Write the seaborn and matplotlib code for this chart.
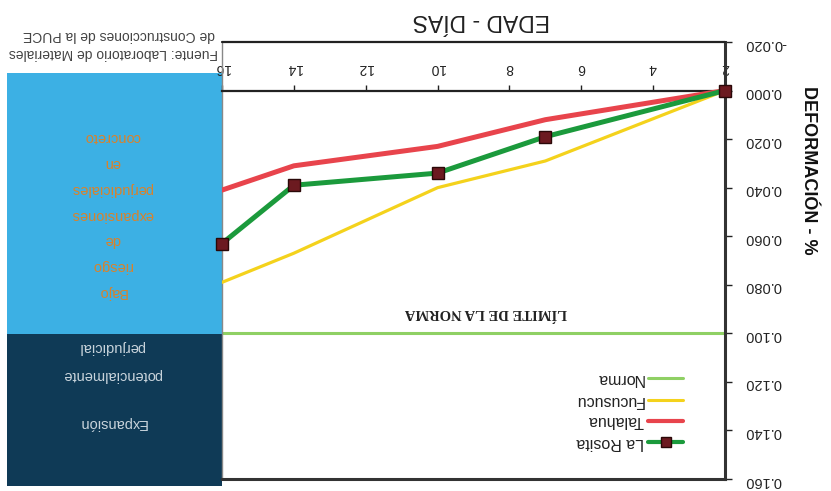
import matplotlib
matplotlib.use("Agg")
import matplotlib.pyplot as plt
import seaborn as sns
from matplotlib.patches import Rectangle
from matplotlib.lines import Line2D
from matplotlib.ticker import FuncFormatter

# Expansion readings (%) by age in days
dias = [2, 7, 10, 14, 16]
la_rosita = [0.000, 0.019, 0.034, 0.039, 0.063]
talahua = [0.000, 0.012, 0.023, 0.031, 0.041]
fucusucu = [0.000, 0.029, 0.040, 0.067, 0.079]
norma = 0.100

series_names = ["La Rosita", "Talahua", "Fucusucu", "Norma"]
x_ticks = [2, 4, 6, 8, 10, 12, 14, 16]
y_ticks = [-0.020, 0.000, 0.020, 0.040, 0.060, 0.080, 0.100, 0.120, 0.140, 0.160]

sns.set_style("white")
plt.rcParams["font.family"] = ["Liberation Sans", "DejaVu Sans"]
plt.rcParams["axes.unicode_minus"] = False

W, H = 831, 491
fig = plt.figure(figsize=(W / 100, H / 100), dpi=100)
fig.patch.set_facecolor("white")


def fx(x):
    return x / W


def fy(y):
    return 1 - y / H


# side panel describing the risk zones
fig.patches.append(Rectangle((fx(7), fy(334)), fx(222) - fx(7), fy(73) - fy(334),
                             transform=fig.transFigure, facecolor="#3cb0e4",
                             edgecolor="none", zorder=0))
fig.patches.append(Rectangle((fx(7), fy(486)), fx(222) - fx(7), fy(334) - fy(486),
                             transform=fig.transFigure, facecolor="#0f3a56",
                             edgecolor="none", zorder=0))

ax = fig.add_axes([fx(222), fy(479), fx(725) - fx(222), fy(42) - fy(479)])
ax.set_zorder(3)
ax.set_facecolor("white")

colors = {"La Rosita": "#1b9a3c", "Talahua": "#e8444c",
          "Fucusucu": "#f4d21c", "Norma": "#8fd064"}

ax.axhline(norma, color=colors["Norma"], lw=2.2, zorder=2)
sns.lineplot(x=dias, y=fucusucu, color=colors["Fucusucu"], linewidth=2.3, ax=ax,
             zorder=3)
sns.lineplot(x=dias, y=talahua, color=colors["Talahua"], linewidth=3.6, ax=ax,
             zorder=4)
sns.lineplot(x=dias, y=la_rosita, color=colors["La Rosita"], linewidth=3.6, ax=ax,
             marker="s", markersize=8, markerfacecolor="#6c1a20",
             markeredgecolor="#2a0808", markeredgewidth=1, zorder=5, clip_on=False)

ax.set_xlim(16, 2)
ax.set_ylim(0.16, -0.02)
ax.set_xlabel("")
ax.set_ylabel("")

# x axis runs along the zero line, labels between it and the frame
ax.xaxis.tick_top()
ax.spines["top"].set_position(("data", 0))
ax.set_xticks(x_ticks)
ax.tick_params(axis="x", direction="out", length=4, width=1, pad=7,
               labelsize=10, labelrotation=180, colors="#222222")
ax.axhline(-0.02, color="#222222", lw=1.6, clip_on=False, zorder=6)

ax.yaxis.tick_right()
ax.set_yticks(y_ticks)
ax.yaxis.set_major_formatter(FuncFormatter(lambda v, p: f"{v:.3f}"))
ax.tick_params(axis="y", direction="out", length=5, width=1, pad=9,
               labelsize=10.5, labelrotation=180, colors="#222222")

ax.spines["right"].set_linewidth(2.2)
ax.spines["right"].set_color("#333333")
ax.spines["bottom"].set_linewidth(2.2)
ax.spines["bottom"].set_color("#333333")
ax.spines["top"].set_linewidth(1.6)
ax.spines["top"].set_color("#222222")
ax.spines["left"].set_linewidth(1)
ax.spines["left"].set_color("#888888")

ax.text(8.65, 0.0915, "LÍMITE DE LA NORMA", rotation=180, ha="center", va="center",
        fontsize=10.5, weight="bold", family=["Liberation Serif", "DejaVu Serif"],
        color="#222222")

# titles
fig.text(fx(481), fy(21), "EDAD - DÍAS", rotation=180, ha="center", va="center",
         fontsize=16.5, color="#222222")
fig.text(fx(808), fy(170), "DEFORMACIÓN - %", rotation=270, ha="center",
         va="center", fontsize=13, weight="bold", color="#111111")

# legend, drawn above the axes background
legend_rows = [("Norma", 378), ("Fucusucu", 400), ("Talahua", 421), ("La Rosita", 442)]
for name, yy in legend_rows:
    lw = 3 if name in ("Talahua", "La Rosita") else 2.2
    fig.lines.append(Line2D([fx(648), fx(683)], [fy(yy), fy(yy)],
                            transform=fig.transFigure, color=colors[name], lw=lw,
                            zorder=10))
    if name == "La Rosita":
        fig.lines.append(Line2D([fx(665.5)], [fy(yy)], transform=fig.transFigure,
                                marker="s", markersize=7, markerfacecolor="#6c1a20",
                                markeredgecolor="#2a0808", lw=0, zorder=11))
    fig.text(fx(644), fy(yy), name, rotation=180, ha="right", va="center",
             fontsize=11.5, color="#222222", zorder=10)

# risk zone notes
low_risk_lines = ["Bajo", "riesgo", "de", "expansiones", "perjudiciales", "en", "concreto"]
for i, txt in enumerate(low_risk_lines):
    fig.text(fx(112), fy(292 - i * 25.8), txt, rotation=180, ha="center",
             va="center", fontsize=10.5, color="#d9822b")
for txt, yy in [("Expansión", 423), ("potencialmente", 375), ("perjudicial", 347)]:
    fig.text(fx(112), fy(yy), txt, rotation=180, ha="center", va="center",
             fontsize=10.5, color="#c9d4dc")

# source note
fig.text(fx(218), fy(53), "Fuente: Laboratorio de Materiales", rotation=180,
         ha="right", va="center", fontsize=10, color="#444444")
fig.text(fx(215), fy(35), "de Construcciones de la PUCE", rotation=180,
         ha="right", va="center", fontsize=10, color="#444444")

fig.savefig("out.png", dpi=100, facecolor="white")
